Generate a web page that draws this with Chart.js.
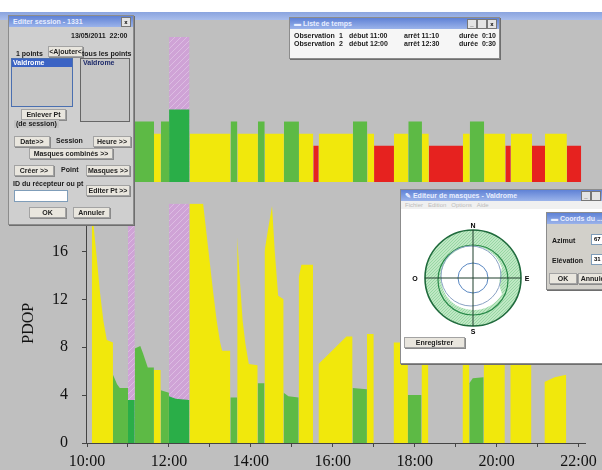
<!DOCTYPE html>
<html>
<head>
<meta charset="utf-8">
<script src="https://cdn.jsdelivr.net/npm/chart.js@4/dist/chart.umd.min.js"></script>
<style>
body { margin:0; width:602px; height:470px; background:#bfbfbf; position:relative; overflow:hidden; font-family:"Liberation Sans", Arial, sans-serif; }
#topwhite { position:absolute; left:0; top:0; width:602px; height:12px; background:#fff; }
#topbar { position:absolute; left:0; top:12px; width:602px; height:8px; background:linear-gradient(#8aa4df,#a9bdeb); }
.wrap { position:absolute; left:0; }
.win { position:absolute; background:#cfcfcf; border:1px solid #8c8c8c; box-shadow:1px 1px 0 #6e6e6e; overflow:hidden; }
.ttl { height:11px; background:linear-gradient(#5f82d6,#9bb3ea); color:#e8eeff; font:bold 7px "Liberation Sans", Arial; line-height:11px; padding-left:4px; white-space:nowrap; position:relative; }
.ttl .x { position:absolute; top:1px; width:8px; height:8px; background:#e4e4e4; border:1px solid #777; color:#000; font-size:6px; line-height:8px; text-align:center; }
.b { position:absolute; background:#e9e6de; border:1px solid #a3a3a3; box-shadow:1px 1px 0 #8a8a8a; font:bold 7px "Liberation Sans", Arial; color:#222; text-align:center; line-height:9px; height:9px; white-space:nowrap; }
.t { position:absolute; font:bold 7px "Liberation Sans", Arial; color:#1a1a1a; white-space:nowrap; line-height:8px; }
.inp { position:absolute; background:#fff; border:1px solid #7f9db9; font:bold 6px "Liberation Sans", Arial; line-height:9px; padding-left:2px; }
</style>
</head>
<body>
<div id="topwhite"></div>
<div id="topbar"></div>

<div class="wrap" style="top:20px"><canvas id="band" width="602" height="170"></canvas></div>
<div class="wrap" style="top:180px"><canvas id="pdop" width="602" height="290"></canvas></div>

<!-- Editer session -->
<div class="win" style="left:8px; top:15px; width:124px; height:208px;">
  <div class="ttl">Editer session - 1331<span class="x" style="right:2px">x</span></div>
  <div class="t" style="left:62px; top:16px; width:56px; text-align:right">13/05/2011&nbsp; 22:00</div>
  <div class="t" style="left:7px; top:34px">1 points</div>
  <div class="b" style="left:39px; top:30px; width:33px">&lt;Ajouter&lt;</div>
  <div class="t" style="left:73px; top:34px">tous les points</div>
  <div style="position:absolute; left:2px; top:42px; width:60px; height:47px; background:#c6c6c6; border:1px solid #4a6fb0;">
    <div style="background:#3b63c4; color:#fff; font:bold 7px 'Liberation Sans'; height:8px; line-height:8px; padding-left:1px">Valdrome</div>
  </div>
  <div style="position:absolute; left:71px; top:42px; width:48px; height:62px; background:#c6c6c6; border:1px solid #666;">
    <div style="color:#1d2a6a; font:bold 7px 'Liberation Sans'; height:8px; line-height:8px; padding-left:2px">Valdrome</div>
  </div>
  <div class="b" style="left:12px; top:93px; width:43px">Enlever Pt</div>
  <div class="t" style="left:5px; top:104px; background:#c4c4c4; padding:0 2px">(de session)</div>
  <div class="b" style="left:5px; top:120px; width:34px">Date&gt;&gt;</div>
  <div class="t" style="left:47px; top:121px">Session</div>
  <div class="b" style="left:84px; top:120px; width:36px">Heure &gt;&gt;</div>
  <div class="b" style="left:20px; top:132px; width:82px">Masques combinés &gt;&gt;</div>
  <div class="b" style="left:5px; top:149px; width:38px">Créer &gt;&gt;</div>
  <div class="t" style="left:52px; top:150px">Point</div>
  <div class="b" style="left:77px; top:149px; width:42px">Masques &gt;&gt;</div>
  <div class="t" style="left:4px; top:164px">ID du récepteur ou pt</div>
  <div class="inp" style="left:5px; top:174px; width:50px; height:10px"></div>
  <div class="b" style="left:77px; top:169px; width:42px">Editer Pt &gt;&gt;</div>
  <div class="b" style="left:20px; top:191px; width:35px">OK</div>
  <div class="b" style="left:64px; top:191px; width:35px">Annuler</div>
</div>

<!-- Liste de temps -->
<div class="win" style="left:289px; top:17px; width:209px; height:40px; background:#f6f6f6;">
  <div class="ttl">&#9644; Liste de temps
    <span class="x" style="right:22px">_</span><span class="x" style="right:12px"> </span><span class="x" style="right:2px">x</span>
  </div>
  <div class="t" style="left:4px; top:14px">Observation</div>
  <div class="t" style="left:49px; top:14px">1</div>
  <div class="t" style="left:59px; top:14px">début 11:00</div>
  <div class="t" style="left:114px; top:14px">arrêt 11:10</div>
  <div class="t" style="left:169px; top:14px">durée&nbsp; 0:10</div>
  <div class="t" style="left:4px; top:22px">Observation</div>
  <div class="t" style="left:49px; top:22px">2</div>
  <div class="t" style="left:59px; top:22px">début 12:00</div>
  <div class="t" style="left:114px; top:22px">arrêt 12:30</div>
  <div class="t" style="left:169px; top:22px">durée&nbsp; 0:30</div>
</div>

<!-- Editeur de masques -->
<div class="win" style="left:400px; top:189px; width:215px; height:173px; background:#fff;">
  <div class="ttl">&#9998; Editeur de masques - Valdrome
    <span class="x" style="right:25px">_</span><span class="x" style="right:15px"> </span></div>
  <div class="t" style="left:0; top:11px; width:215px; height:8px; background:#f0f0f0; color:#bbb; font-weight:normal; font-size:6px; padding-left:4px">Fichier&nbsp;&nbsp; Edition&nbsp;&nbsp; Options&nbsp;&nbsp; Aide</div>
  <svg style="position:absolute; left:0; top:0" width="140" height="150">
    <defs>
      <pattern id="mesh" width="3" height="3" patternUnits="userSpaceOnUse">
        <rect width="3" height="3" fill="#bfe8c4"/>
        <path d="M0 3 L3 0" stroke="#86d096" stroke-width="0.7"/>
      </pattern>
    </defs>
    <circle cx="72" cy="88" r="48" fill="url(#mesh)" stroke="#1f6a3c" stroke-width="1.6"/>
    <circle cx="72" cy="90" r="35" fill="none" stroke="#2a8a4a" stroke-width="1.2"/>
    <path d="M72 56 A32 32 0 0 1 101 78 Q96 92 101 104 A32 32 0 0 1 72 120 A32 32 0 0 1 72 56 Z" fill="#fff"/>
    <circle cx="70" cy="86" r="30" fill="none" stroke="#8aa2c4" stroke-width="1"/>
    <circle cx="72" cy="88" r="15" fill="none" stroke="#5a88c2" stroke-width="1"/>
    <line x1="24" y1="88" x2="120" y2="88" stroke="#1f3f2c" stroke-width="1"/>
    <line x1="72" y1="40" x2="72" y2="136" stroke="#1f3f2c" stroke-width="1"/>
    <text x="72" y="38" font-size="7" font-weight="bold" text-anchor="middle" font-family="Liberation Sans">N</text>
    <text x="72" y="144" font-size="7" font-weight="bold" text-anchor="middle" font-family="Liberation Sans">S</text>
    <text x="14" y="91" font-size="7" font-weight="bold" text-anchor="middle" font-family="Liberation Sans">O</text>
    <text x="126" y="91" font-size="7" font-weight="bold" text-anchor="middle" font-family="Liberation Sans">E</text>
  </svg>
  <div class="b" style="left:3px; top:147px; width:59px">Enregistrer</div>
</div>

<!-- Coords du ... -->
<div class="win" style="left:546px; top:212px; width:64px; height:76px; background:#d2d0ca;">
  <div class="ttl">&#9644; Coords du ...</div>
  <div class="t" style="left:5px; top:24px">Azimut</div>
  <div class="inp" style="left:44px; top:21px; width:16px; height:9px">67</div>
  <div class="t" style="left:5px; top:44px">Elévation</div>
  <div class="inp" style="left:44px; top:41px; width:16px; height:9px">31</div>
  <div class="b" style="left:2px; top:60px; width:26px">OK</div>
  <div class="b" style="left:31px; top:60px; width:30px">Annuler</div>
</div>

<script>
// PDOP curves, one list per colour, null = gap between passes
var yellowTimes = ['10:07','10:09','10:14','10:19','10:24','10:29','10:38', null,
  '11:38','11:48', null,
  '12:30','12:50','12:55','13:00','13:05','13:10','13:15','13:18','13:30', null,
  '13:40','13:44','13:48','13:52','13:57','14:10', null,
  '14:20','14:25','14:31','14:35','14:40','14:48', null,
  '15:10','15:14','15:31', null,
  '15:39','15:50','16:20','16:29', null,
  '16:50','17:00', null,
  '17:29','17:50', null,
  '18:10','18:20', null,
  '19:10','19:20', null,
  '19:41','20:12', null,
  '20:20','20:51', null,
  '21:10','21:25','21:42'];
var yellowPdop = [20.0, 18.5, 15.6, 12.6, 10.2, 8.6, 8.4, null,
  6.1, 6.1, null,
  20.0, 20.0, 17.5, 15.0, 12.5, 10.2, 8.4, 7.7, 7.7, null,
  17.2, 13.5, 10.2, 8.3, 6.6, 6.5, null,
  16.0, 17.8, 19.8, 16.0, 12.3, 12.0, null,
  13.8, 14.9, 14.9, null,
  6.6, 7.2, 8.9, 8.9, null,
  9.1, 9.1, null,
  8.4, 8.4, null,
  9.5, 9.5, null,
  8.8, 8.8, null,
  9.2, 9.2, null,
  9.0, 9.0, null,
  5.1, 5.5, 5.7];

var greenTimes = ['10:38','10:44','10:48','11:00', null,
  '11:10','11:18','11:22','11:29','11:38', null,
  '11:48','12:00', null,
  '13:30','13:40', null,
  '14:10','14:20', null,
  '14:48','14:55','15:10', null,
  '16:29','16:50', null,
  '17:50','18:10', null,
  '19:20','19:25','19:41'];
var greenPdop = [5.7, 4.9, 4.6, 4.6, null,
  7.9, 8.1, 7.5, 6.3, 6.3, null,
  4.4, 4.2, null,
  3.8, 3.8, null,
  5.0, 5.0, null,
  4.2, 3.9, 3.8, null,
  4.6, 4.5, null,
  4.0, 4.0, null,
  5.0, 5.4, 5.5];

// passes during the observation windows
var obsTimes = ['11:00','11:10', null, '12:00','12:10','12:30'];
var obsPdop = [3.6, 3.6, null, 3.9, 3.7, 3.6];

// observation windows (Liste de temps)
var obsStart = ['11:00', '12:00'];
var obsEnd = ['11:10', '12:30'];

// quality strip: R = red, Y = yellow, G = green, O = observed
var bandStart = ['10:07','10:38','11:00','11:10','11:38','11:48','12:00','12:30','13:30','13:40','14:10',
  '14:20','14:48','15:10','15:31','15:39','16:29','16:50','17:00','17:29','17:50','18:10','18:20',
  '19:10','19:20','19:41','20:12','20:20','20:51','21:10','21:42'];
var bandQuality = ['Y','G','O','G','Y','G','O','Y','G','Y','G',
  'Y','G','Y','R','Y','G','Y','R','Y','G','Y','R',
  'Y','G','Y','R','Y','R','Y','R'];
var bandStop = '22:03';
var bandLevel = { R: 3, Y: 4, G: 5, O: 6 };

var pdopTicks = [0, 4, 8, 12, 16, 20];
var hourTicks = [10, 11, 12, 13, 14, 15, 16, 17, 18, 19, 20, 21, 22];

var YELLOW = '#f1e80c', GREEN = '#5dba45', DARKGREEN = '#2aae48', RED = '#e6221f';

function toMin(t) { var p = t.split(':'); return +p[0] * 60 + +p[1]; }

function areas(times, values) {
  var pts = [], run = [];
  function flush() {
    if (!run.length) return;
    var a = run[0].x, b = run[run.length - 1].x;
    pts.push({x: a, y: 0});
    pts = pts.concat(run);
    pts.push({x: b, y: 0}, {x: b, y: null});
    run = [];
  }
  for (var i = 0; i < times.length; i++) {
    if (times[i] === null) flush();
    else run.push({x: toMin(times[i]), y: values[i]});
  }
  flush();
  return pts;
}

function blocks(starts, ends, h) {
  var pts = [];
  for (var i = 0; i < starts.length; i++) {
    var a = toMin(starts[i]), b = toMin(ends[i]);
    pts.push({x: a, y: 0}, {x: a, y: h}, {x: b, y: h}, {x: b, y: 0}, {x: b, y: null});
  }
  return pts;
}

function hatch() {
  var c = document.createElement('canvas');
  c.width = 6; c.height = 6;
  var g = c.getContext('2d');
  g.fillStyle = '#cfa3d6';
  g.fillRect(0, 0, 6, 6);
  g.strokeStyle = '#dcbde2';
  g.lineWidth = 1;
  g.beginPath();
  g.moveTo(0, 6); g.lineTo(6, 0);
  g.moveTo(-3, 3); g.lineTo(3, -3);
  g.moveTo(3, 9); g.lineTo(9, 3);
  g.stroke();
  return g.createPattern(c, 'repeat');
}

function area(pts, colour, order) {
  return { data: pts, backgroundColor: colour, borderWidth: 0, pointRadius: 0, fill: 'origin', tension: 0, order: order || 0 };
}

Chart.defaults.font.family = 'Liberation Serif';
Chart.defaults.animation = false;

var xMin = 598.5, xMax = 1330;
var pinkFill = hatch();

// quality strip above the graph
var bandEnd = bandStart.slice(1).concat([bandStop]);
var bandSets = [];
['O', 'G', 'Y', 'R'].forEach(function (q) {
  var s = [], e = [];
  bandQuality.forEach(function (v, i) { if (v === q) { s.push(bandStart[i]); e.push(bandEnd[i]); } });
  var col = q === 'O' ? DARKGREEN : q === 'G' ? GREEN : q === 'Y' ? YELLOW : RED;
  bandSets.push(area(blocks(s, e, bandLevel[q]), col));
});
bandSets.push(area(blocks(obsStart, obsEnd, 12), pinkFill, 2));

new Chart(document.getElementById('band'), {
  type: 'line',
  data: { datasets: bandSets },
  options: {
    responsive: false,
    layout: { padding: { left: 86, right: 16, top: 17, bottom: 8 } },
    plugins: { legend: { display: false }, tooltip: { enabled: false } },
    scales: {
      x: { type: 'linear', min: xMin, max: xMax, display: false },
      y: { min: 0, max: 12, display: false }
    }
  }
});

// PDOP graph
new Chart(document.getElementById('pdop'), {
  type: 'line',
  data: {
    datasets: [
      area(areas(obsTimes, obsPdop), DARKGREEN),
      area(areas(greenTimes, greenPdop), GREEN),
      area(areas(yellowTimes, yellowPdop), YELLOW),
      area(blocks(obsStart, obsEnd, 20), pinkFill, 2)
    ]
  },
  options: {
    responsive: false,
    layout: { padding: { left: 0, right: 16, top: 0, bottom: 0 } },
    plugins: { legend: { display: false }, tooltip: { enabled: false } },
    scales: {
      x: {
        type: 'linear', min: xMin, max: xMax,
        afterBuildTicks: function (s) { s.ticks = hourTicks.map(function (h) { return {value: h * 60}; }); },
        afterFit: function (s) { s.height = 27; },
        grid: { drawOnChartArea: false, tickLength: 4, color: '#444' },
        border: { color: '#444', width: 1 },
        ticks: {
          autoSkip: false, maxRotation: 0, padding: 5, color: '#111', font: { size: 16 },
          callback: function (v) { return (v / 60) % 2 === 0 ? (v / 60) + ':00' : ''; }
        }
      },
      y: {
        min: 0, max: 20,
        afterBuildTicks: function (s) { s.ticks = pdopTicks.map(function (v) { return {value: v}; }); },
        afterFit: function (s) { s.width = 86; },
        grid: { drawOnChartArea: false, tickLength: 4, color: '#444' },
        border: { color: '#444', width: 1 },
        ticks: { padding: 14, color: '#111', font: { size: 16 } },
        title: { display: true, text: 'PDOP', color: '#111', font: { size: 16 }, padding: { top: 19, bottom: 0 } }
      }
    }
  }
});
</script>
</body>
</html>
